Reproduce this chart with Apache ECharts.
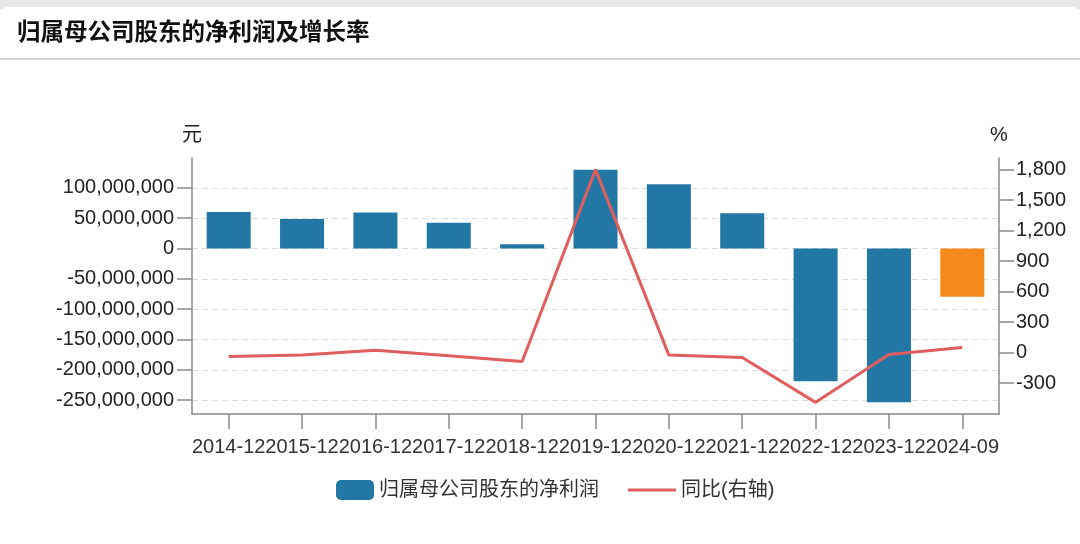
<!DOCTYPE html>
<html>
<head>
<meta charset="utf-8">
<title>归属母公司股东的净利润及增长率</title>
<script src="https://cdn.jsdelivr.net/npm/echarts@6/dist/echarts.min.js"></script>
<style>
  html, body { margin: 0; padding: 0; background: #ffffff; }
  #chart { width: 1080px; height: 544px; }
</style>
</head>
<body>
<div id="chart"></div>
<script>
// Reporting periods
const periods = ['2014-12', '2015-12', '2016-12', '2017-12', '2018-12', '2019-12',
                 '2020-12', '2021-12', '2022-12', '2023-12', '2024-09'];
// Net profit attributable to parent company shareholders (yuan)
const netProfit = [60100000, 48600000, 59500000, 42600000, 6900000, 130000000,
                   106000000, 57900000, -218700000, -253700000, -79500000];
// Year-over-year change (%)
const yoyGrowth = [-38, -25, 23, -32, -88, 1800, -25, -48, -490, -19, 50];
// Tick values for the two value axes
const leftTicks = [-250000000, -200000000, -150000000, -100000000, -50000000, 0, 50000000, 100000000];
const rightTicks = [-300, 0, 300, 600, 900, 1200, 1500, 1800];

const barName = '归属母公司股东的净利润';
const lineName = '同比(右轴)';

const FONT = "'Liberation Sans', 'Noto Sans CJK SC', Arial, sans-serif";
const BLUE = '#2377a4';
const ORANGE = '#f5891c';
const RED = '#e05e5e';
const AXIS = '#8a8a8a';
const TEXT = '#222222';

const fmt = v => Number(v).toLocaleString('en-US');
// 5% padding on both ends of the data extent
const padMin = e => e.min - 0.05 * (e.max - e.min);
const padMax = e => e.max + 0.05 * (e.max - e.min);

const lastIdx = periods.length - 1;
const barData = netProfit.map((v, i) =>
  i === lastIdx ? { value: v, itemStyle: { color: ORANGE } } : v);

const chart = echarts.init(document.getElementById('chart'), null, { renderer: 'canvas' });

chart.setOption({
  animation: false,
  backgroundColor: '#ffffff',
  textStyle: { fontFamily: FONT },
  graphic: [
    { type: 'rect', left: 0, top: 0, shape: { width: 1080, height: 10 },
      style: { fill: '#e8e8e8' }, z: -10 },
    { type: 'rect', left: 0, top: 7, shape: { width: 1080, height: 60, r: [8, 8, 0, 0] },
      style: { fill: '#ffffff' }, z: -9 },
    { type: 'rect', left: 0, top: 58, shape: { width: 1080, height: 2 },
      style: { fill: '#d4d4d4' }, z: -8 }
  ],
  title: {
    text: '归属母公司股东的净利润及增长率',
    left: 17,
    top: 22,
    padding: 0,
    textStyle: { fontFamily: FONT, fontSize: 23.5, fontWeight: 'bold', color: '#111111' }
  },
  legend: [
    {
      data: [barName],
      left: 336, top: 480, padding: 0,
      itemWidth: 38, itemHeight: 20, icon: 'roundRect',
      textStyle: { fontFamily: FONT, fontSize: 20, color: '#333333' }
    },
    {
      // plain stroke for the line entry, no marker
      data: [{ name: lineName, icon: 'path://M0,0L48,0L48,3L0,3Z' }],
      left: 628, top: 480, padding: 0,
      itemWidth: 48, itemHeight: 20,
      itemStyle: { color: RED },
      textStyle: { fontFamily: FONT, fontSize: 20, color: '#333333' }
    }
  ],
  grid: { left: 192, right: 81, top: 158, bottom: 130, containLabel: false },
  xAxis: {
    type: 'category',
    data: periods,
    axisLine: { show: true, onZero: false, lineStyle: { color: AXIS, width: 1.5 } },
    axisTick: { show: true, alignWithLabel: true, length: 15, lineStyle: { color: AXIS, width: 1.5 } },
    axisLabel: { interval: 0, margin: 23, fontSize: 20, color: '#333333', fontFamily: FONT },
    splitLine: { show: false }
  },
  yAxis: [
    {
      type: 'value',
      name: '元',
      nameLocation: 'end',
      nameGap: 13,
      nameTextStyle: { fontSize: 20, color: TEXT, fontFamily: FONT, align: 'center' },
      min: padMin,
      max: padMax,
      axisLine: { show: true, lineStyle: { color: AXIS, width: 1.5 } },
      axisTick: { show: true, length: 15, customValues: leftTicks, lineStyle: { color: AXIS, width: 1.5 } },
      axisLabel: { customValues: leftTicks, margin: 18, fontSize: 20, color: TEXT, fontFamily: FONT, formatter: fmt },
      splitLine: { show: true, lineStyle: { color: '#dddddd', type: [6, 4], width: 1.2 } }
    },
    {
      type: 'value',
      name: '%',
      nameLocation: 'end',
      nameGap: 13,
      nameTextStyle: { fontSize: 20, color: TEXT, fontFamily: FONT, align: 'center' },
      min: padMin,
      max: padMax,
      axisLine: { show: true, lineStyle: { color: AXIS, width: 1.5 } },
      axisTick: { show: true, length: 15, customValues: rightTicks, lineStyle: { color: AXIS, width: 1.5 } },
      axisLabel: { customValues: rightTicks, margin: 17, fontSize: 20, color: TEXT, fontFamily: FONT, formatter: fmt },
      splitLine: { show: false }
    }
  ],
  series: [
    {
      name: barName,
      type: 'bar',
      yAxisIndex: 0,
      barWidth: '60%',
      data: barData,
      itemStyle: { color: BLUE }
    },
    {
      name: lineName,
      type: 'line',
      yAxisIndex: 1,
      data: yoyGrowth,
      symbol: 'none',
      lineStyle: { color: RED, width: 3 },
      itemStyle: { color: RED },
      z: 5
    }
  ]
});
</script>
</body>
</html>
